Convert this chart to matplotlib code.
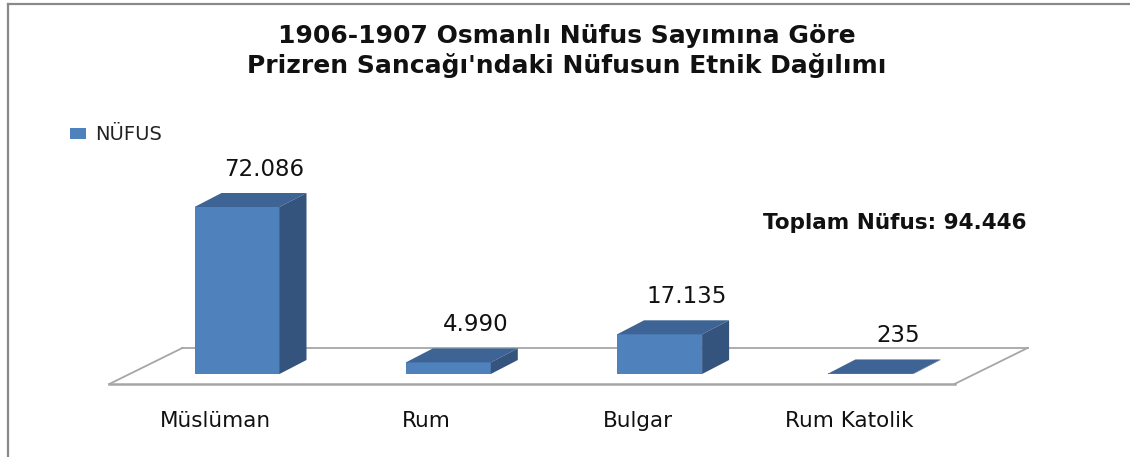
import matplotlib
matplotlib.use("Agg")
import matplotlib.pyplot as plt
from matplotlib.patches import Polygon, Rectangle
from matplotlib.lines import Line2D

# ---- data ----
categories = ["Müslüman", "Rum", "Bulgar", "Rum Katolik"]
values = [72086, 4990, 17135, 235]
series_name = "NÜFUS"
title_lines = ["1906-1907 Osmanlı Nüfus Sayımına Göre",
               "Prizren Sancağı'ndaki Nüfusun Etnik Dağılımı"]
total_label = "Toplam Nüfus: 94.446"

# ---- layout (pixels) ----
W, H, DPI = 1130, 457, 100
PX_PER_CAT = 211.3
X0_PX = 237.0           # x of first bar centre
BASE_PX = 374.0         # y (from top) of bar base
PX_PER_UNIT = 167.0 / 72086.0

FRONT = "#4F81BD"
TOP = "#3D6494"
SIDE = "#34537D"
GRID = "#A6A6A6"

fig = plt.figure(figsize=(W / DPI, H / DPI), dpi=DPI)
ax = fig.add_axes([0, 0, 1, 1])
ax.set_xlim(-X0_PX / PX_PER_CAT, (W - X0_PX) / PX_PER_CAT)
ax.set_ylim(-(H - BASE_PX) / PX_PER_UNIT, BASE_PX / PX_PER_UNIT)
ax.axis("off")

def cx(px):
    return px / PX_PER_CAT

def cy(px):
    return px / PX_PER_UNIT

bw = cx(85)
ddx, ddy = cx(27), cy(14)
shift = cx(22)
n = len(categories)

# floor
f_front = -cy(10)
fdx, fdy = cx(73), cy(36)
fl = -0.5 - shift
fr = n - 0.5 - shift
ax.add_line(Line2D([fl + fdx, fr + fdx], [f_front + fdy, f_front + fdy],
                   color=GRID, lw=1.3, zorder=1))
ax.add_line(Line2D([fl, fl + fdx], [f_front, f_front + fdy], color=GRID, lw=1.3, zorder=1))
ax.add_line(Line2D([fr, fr + fdx], [f_front, f_front + fdy], color=GRID, lw=1.3, zorder=1))
ax.add_line(Line2D([fl, fr], [f_front, f_front], color=GRID, lw=1.8, zorder=1))

xs = list(range(n))
ax.bar(xs, values, width=bw, color=FRONT, zorder=3, linewidth=0)
for x, v in zip(xs, values):
    l, r = x - bw / 2, x + bw / 2
    ax.add_patch(Polygon([(l, v), (r, v), (r + ddx, v + ddy), (l + ddx, v + ddy)],
                         closed=True, facecolor=TOP, edgecolor="none", zorder=3))
    ax.add_patch(Polygon([(r, 0), (r, v), (r + ddx, v + ddy), (r + ddx, ddy)],
                         closed=True, facecolor=SIDE, edgecolor="none", zorder=3))
    lab = f"{v:,}".replace(",", ".")
    ax.annotate(lab, xy=(x + ddx, v + ddy), xytext=(0, 17), textcoords="offset pixels",
                ha="center", va="baseline", fontsize=16.5, color="#111111", zorder=5)

for x, c in zip(xs, categories):
    ax.annotate(c, xy=(x - shift, 0), xytext=(0, -(427 - BASE_PX)), textcoords="offset pixels",
                ha="center", va="baseline", fontsize=15.5, color="#111111")

# title
fig.text(567 / W, 1 - 43 / H, title_lines[0], ha="center", va="baseline",
         fontsize=18, fontweight="bold", color="#111111")
fig.text(567 / W, 1 - 73 / H, title_lines[1], ha="center", va="baseline",
         fontsize=18, fontweight="bold", color="#111111")

# legend
fig.add_artist(Rectangle((70 / W, 1 - 139 / H), 16 / W, 11 / H,
                         transform=fig.transFigure, facecolor=FRONT, edgecolor="none"))
fig.text(95 / W, 1 - 140 / H, series_name, ha="left", va="baseline",
         fontsize=14, color="#222222")

# total
fig.text(895 / W, 1 - 229 / H, total_label, ha="center", va="baseline",
         fontsize=15.5, fontweight="bold", color="#111111")

# chart border (left and top visible)
fig.add_artist(Line2D([7.5 / W, 7.5 / W], [0, 1 - 3.5 / H], transform=fig.transFigure,
                      color="#898989", lw=1.6))
fig.add_artist(Line2D([7.5 / W, 1], [1 - 3.5 / H, 1 - 3.5 / H], transform=fig.transFigure,
                      color="#898989", lw=1.6))

fig.savefig("out.png", dpi=DPI)
